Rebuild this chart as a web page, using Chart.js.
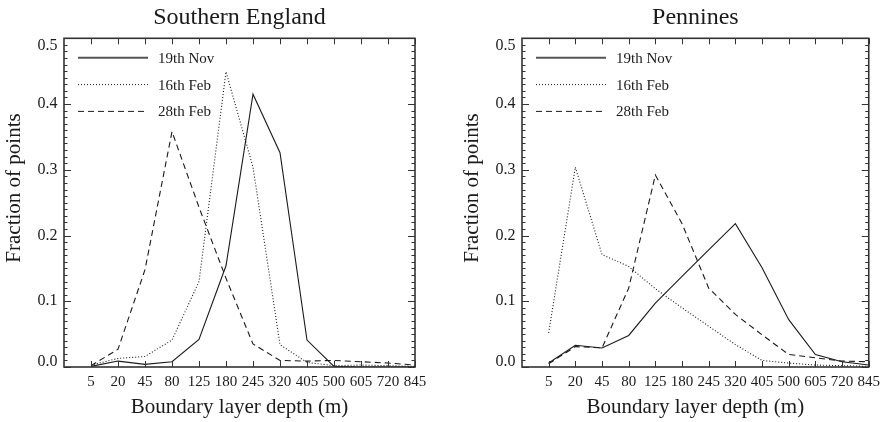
<!DOCTYPE html>
<html>
<head>
<meta charset="utf-8">
<script src="https://cdn.jsdelivr.net/npm/chart.js@4.4.1/dist/chart.umd.min.js"></script>
<style>
  html, body { margin: 0; padding: 0; background: #fff; }
  #wrap { position: relative; width: 886px; height: 422px; overflow: hidden; }
  canvas { position: absolute; top: 0; }
</style>
</head>
<body>
<div id="wrap">
  <canvas id="south" width="443" height="422" style="left:0"></canvas>
  <canvas id="pennines" width="443" height="422" style="left:443px"></canvas>
</div>
<script>
// Boundary layer depth classes (m), shown as category ticks along x
const depthLabels = ['5', '20', '45', '80', '125', '180', '245', '320', '405', '500', '605', '720', '845'];
const seriesNames = ['19th Nov', '16th Feb', '28th Feb'];
const yTickValues = [0, 0.1, 0.2, 0.3, 0.4, 0.5];

// Southern England: fraction of points in each depth class
const southNov = [0.001, 0.009, 0.004, 0.008, 0.042, 0.154, 0.415, 0.326, 0.041, 0.001, 0.0, 0.0, 0.0];
const southFeb16 = [0.003, 0.013, 0.016, 0.041, 0.130, 0.449, 0.304, 0.034, 0.007, 0.002, 0.003, 0.002, 0.001];
const southFeb28 = [0.002, 0.027, 0.148, 0.358, 0.243, 0.135, 0.035, 0.010, 0.009, 0.010, 0.008, 0.006, 0.003];

// Pennines
const pennNov = [0.006, 0.033, 0.029, 0.048, 0.097, 0.138, 0.178, 0.218, 0.151, 0.072, 0.019, 0.008, 0.003];
const pennFeb16 = [0.052, 0.304, 0.171, 0.153, 0.119, 0.090, 0.062, 0.034, 0.010, 0.006, 0.003, 0.002, 0.001];
const pennFeb28 = [0.005, 0.031, 0.029, 0.120, 0.292, 0.218, 0.120, 0.080, 0.049, 0.019, 0.014, 0.009, 0.008];

const SERIF = "'Liberation Serif', 'Times New Roman', serif";
const INK = '#1a1a1a';
const dashes = [[], [1, 2], [6, 4]];

function toPoints(values) {
  return values.map((v, i) => ({ x: i, y: v }));
}

// Panel title, frame, inward ticks, y labels, y title and an inset legend
const framePlugin = {
  id: 'frameTicks',
  afterDraw(chart, args, opts) {
    const { ctx, chartArea: a, scales: { x, y } } = chart;
    ctx.save();

    // panel title centred over the plot box
    ctx.fillStyle = INK;
    ctx.font = '24px ' + SERIF;
    ctx.textAlign = 'center';
    ctx.textBaseline = 'middle';
    ctx.fillText(opts.title, (a.left + a.right) / 2, 18);

    // ticks
    ctx.strokeStyle = '#333';
    ctx.lineWidth = 1;
    ctx.beginPath();
    depthLabels.forEach((_, i) => {
      const px = Math.round(x.getPixelForValue(i)) + 0.5;
      ctx.moveTo(px, a.top); ctx.lineTo(px, a.top + 6);
      ctx.moveTo(px, a.bottom); ctx.lineTo(px, a.bottom - 6);
    });
    for (let k = 0; k <= 50; k++) {
      const py = Math.round(y.getPixelForValue(k / 100)) + 0.5;
      const len = k % 10 === 0 ? 7 : 3.5;
      ctx.moveTo(a.left, py); ctx.lineTo(a.left + len, py);
      ctx.moveTo(a.right, py); ctx.lineTo(a.right - len, py);
    }
    ctx.stroke();
    // frame
    ctx.lineWidth = 1.6;
    ctx.strokeStyle = '#333';
    ctx.strokeRect(a.left, a.top, a.right - a.left, a.bottom - a.top);

    // y tick labels, kept inside the frame's height
    ctx.fillStyle = INK;
    ctx.font = '16px ' + SERIF;
    ctx.textAlign = 'right';
    ctx.textBaseline = 'middle';
    yTickValues.forEach(v => {
      let py = y.getPixelForValue(v);
      py = Math.max(a.top + 7, Math.min(a.bottom - 5, py));
      ctx.fillText(v.toFixed(1), a.left - 6.5, py);
    });

    // y axis title
    ctx.save();
    ctx.translate(a.left - 49.5, 188);
    ctx.rotate(-Math.PI / 2);
    ctx.textAlign = 'center';
    ctx.font = '21px ' + SERIF;
    ctx.fillText('Fraction of points', 0, 0);
    ctx.restore();

    // legend
    ctx.font = '15px ' + SERIF;
    ctx.textAlign = 'left';
    chart.data.datasets.forEach((ds, i) => {
      const ly = a.top + 19.5 + i * 26.8;
      ctx.save();
      ctx.strokeStyle = i === 0 ? '#555' : INK;
      ctx.lineWidth = i === 0 ? 2 : 1;
      ctx.setLineDash(ds.borderDash || []);
      ctx.beginPath();
      ctx.moveTo(a.left + 14, ly);
      ctx.lineTo(a.left + 84, ly);
      ctx.stroke();
      ctx.restore();
      ctx.fillText(ds.label, a.left + 94, ly + 1);
    });
    ctx.restore();
  }
};

function makeChart(id, title, series, padLeft, padRight) {
  return new Chart(document.getElementById(id), {
    type: 'line',
    data: {
      datasets: series.map((vals, i) => ({
        label: seriesNames[i],
        data: toPoints(vals),
        borderColor: INK,
        borderWidth: 1.1,
        borderDash: dashes[i],
        pointRadius: 0,
        tension: 0,
        fill: false
      }))
    },
    options: {
      responsive: false,
      animation: false,
      devicePixelRatio: 1,
      layout: { padding: { left: 0, right: padRight, top: 38.3, bottom: 0 } },
      plugins: {
        legend: { display: false },
        tooltip: { enabled: false },
        title: { display: false },
        frameTicks: { title: title }
      },
      scales: {
        x: {
          type: 'linear',
          min: -1,
          max: 12,
          grid: { display: false, drawTicks: false },
          border: { display: false },
          afterFit: s => { s.height = 55; },
          ticks: {
            stepSize: 1,
            autoSkip: false,
            maxRotation: 0,
            minRotation: 0,
            padding: 6,
            color: INK,
            font: { family: SERIF, size: 15 },
            callback: v => (depthLabels[v] !== undefined ? depthLabels[v] : '')
          },
          title: {
            display: true,
            text: 'Boundary layer depth (m)',
            color: INK,
            font: { family: SERIF, size: 21 },
            padding: { top: 0, bottom: 1.5 }
          }
        },
        y: {
          min: 0,
          max: 0.5,
          grid: { display: false, drawTicks: false },
          border: { display: false },
          ticks: { display: false, stepSize: 0.1 },
          afterFit: s => { s.width = padLeft; }
        }
      }
    },
    plugins: [framePlugin]
  });
}

makeChart('south', 'Southern England', [southNov, southFeb16, southFeb28], 64, 28);
makeChart('pennines', 'Pennines', [pennNov, pennFeb16, pennFeb28], 79, 14);
</script>
</body>
</html>
